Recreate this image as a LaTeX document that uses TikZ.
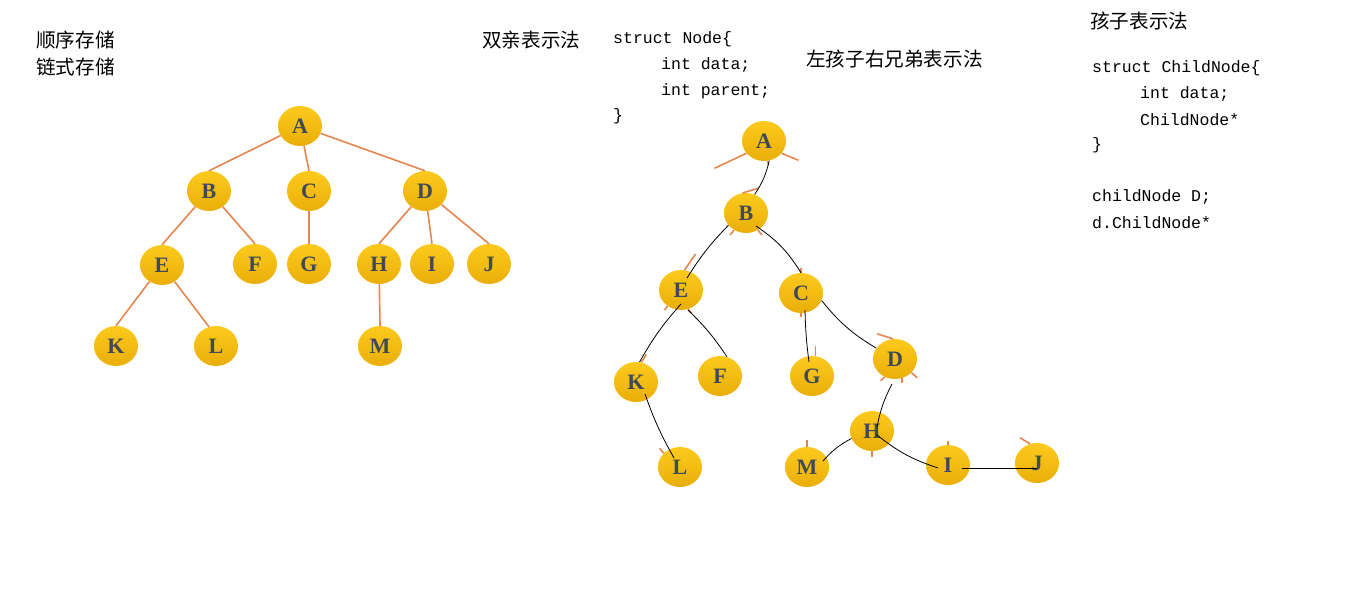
\documentclass[tikz,border=0pt]{standalone}
\usepackage{fontspec}
\setmainfont{Liberation Serif}
\setmonofont{Liberation Mono}
\newfontfamily\cjk{Noto Sans CJK SC}
\usepackage{tikz}
\usetikzlibrary{shapes.geometric, calc}

\definecolor{ballTop}{RGB}{253,202,28}
\definecolor{ballBot}{RGB}{234,174,10}
\definecolor{letter}{RGB}{62,74,86}
\definecolor{branch}{RGB}{230,134,78}

\begin{document}
\begin{tikzpicture}[x=1pt, y=-1pt,
    ball/.style={ellipse, minimum width=44, minimum height=40, inner sep=0pt,
      top color=ballTop, bottom color=ballBot, text=letter,
      font=\fontsize{22}{22}\selectfont\bfseries},
    branch/.style={draw=branch, line width=1.6pt},
    stub/.style={draw=branch, line width=1.6pt},
    hand/.style={draw=black, line width=0.8pt},
    cn/.style={anchor=west, inner sep=0pt, font=\cjk\fontsize{19.6}{19.6}\selectfont},
    code/.style={anchor=west, inner sep=0pt, font=\ttfamily\fontsize{16.5}{16.5}\selectfont}]
        \useasboundingbox (0,0) rectangle (1360,604);

        % Titles
        \node[cn] (seq) at (36,40) {顺序存储};
        \node[cn] (link) at (36,67) {链式存储};
        \node[cn] (parent) at (482,40) {双亲表示法};
        \node[cn] (lcrs) at (806,59) {左孩子右兄弟表示法};
        \node[cn] (child) at (1090,21) {孩子表示法};

        % Parent code
        \node[code] (pc1) at (613,39) {struct Node\{};
        \node[code] (pc2) at (661,65) {int data;};
        \node[code] (pc3) at (661,91) {int parent;};
        \node[code] (pc4) at (613,116) {\}};

        % Child code
        \node[code] (cc1) at (1092,68) {struct ChildNode\{};
        \node[code] (cc2) at (1140,94) {int data;};
        \node[code] (cc3) at (1140,120) {ChildNode*};
        \node[code] (cc4) at (1092,145) {\}};
        \node[code] (cc5) at (1092,197) {childNode D;};
        \node[code] (cc6) at (1092,223) {d.ChildNode*};

        % Tree
        \node[ball] (A) at (300,126) {A};
        \node[ball] (B) at (209,191) {B};
        \node[ball] (C) at (309,191) {C};
        \node[ball] (D) at (425,191) {D};
        \node[ball] (E) at (162,265) {E};
        \node[ball] (F) at (255,264) {F};
        \node[ball] (G) at (309,264) {G};
        \node[ball] (H) at (379,264) {H};
        \node[ball] (I) at (432,264) {I};
        \node[ball] (J) at (489,264) {J};
        \node[ball] (K) at (116,346) {K};
        \node[ball] (L) at (216,346) {L};
        \node[ball] (M) at (380,346) {M};
        \foreach \p/\c in {A/B, A/C, A/D, B/E, B/F, C/G, D/H, D/I, D/J, E/K, H/M}
          \draw[branch] (\p) -- (\c.north);
        \draw[branch] (E) -- (L.110);

        % Left child, right sibling
        \node[ball] (rA) at (764,141) {A};
        \node[ball] (rB) at (746,213) {B};
        \node[ball] (rE) at (681,290) {E};
        \node[ball] (rC) at (801,293) {C};
        \node[ball] (rK) at (636,382) {K};
        \node[ball] (rF) at (720,376) {F};
        \node[ball] (rG) at (812,376) {G};
        \node[ball] (rD) at (895,359) {D};
        \node[ball] (rH) at (872,431) {H};
        \node[ball] (rL) at (680,467) {L};
        \node[ball] (rM) at (807,467) {M};
        \node[ball] (rI) at (948,465) {I};
        \node[ball] (rJ) at (1037,463) {J};

        % Cut branches
        \draw[stub] (rA.215) -- ++(-32,15);
        \draw[stub] (rA.-35) -- ++(17,7);
        \draw[stub] (rA.-80) -- ++(1,4);
        \draw[stub] (rB.100) -- ++(16,-5);
        \draw[stub] (rB.-125) -- ++(-4,5);
        \draw[stub] (rB.-55) -- ++(4,5);
        \draw[stub] (rE.80) -- ++(11,-16);
        \draw[stub] (rE.-130) -- ++(-3,4);
        \draw[stub] (rE.-70) -- ++(4,4);
        \draw[stub] (rC.north) -- ++(0,-5);
        \draw[stub] (rC.south) -- ++(0,4);
        \draw[stub] (rK.75) -- ++(5,-8);
        \draw[stub] (rG.80) -- ++(0,-10);
        \draw[stub] (rD.95) -- ++(-16,-5);
        \draw[stub] (rD.-120) -- ++(-4,4);
        \draw[stub] (rD.-70) -- ++(0,5);
        \draw[stub] (rD.-40) -- ++(6,5);
        \draw[stub] (rH.south) -- ++(0,6);
        \draw[stub] (rM.north) -- ++(0,-7);
        \draw[stub] (rI.north) -- ++(0,-4);
        \draw[stub] (rJ.110) -- ++(-10,-6);
        \draw[stub] (rL.140) -- ++(-4,-5);

        % Hand drawn links
        \draw[hand] (rA.-75) to[bend left=10] (rB.65);
        \draw[hand] ($(rB)+(10,13)$) to[bend left=12] (rC.north);
        \draw[hand] (rB.-145) to[bend right=6] ($(rE)+(6,-12)$);
        \draw[hand] ($(rE)+(0,14)$) to[bend right=6] (rK.80);
        \draw[hand] ($(rE)+(7,20)$) to[bend left=6] (rF.70);
        \draw[hand] ($(rC)+(4,17)$) to[bend right=3] ($(rG)+(-3,-14)$);
        \draw[hand] (rC.-20) to[bend right=10] (rD.150);
        \draw[hand] ($(rK)+(9,12)$) to[bend right=5] ($(rL)+(-6,-9)$);
        \draw[hand] ($(rD)+(-3,25)$) to[bend right=8] ($(rH)+(5,-4)$);
        \draw[hand] (rH.-160) to[bend right=10] ($(rM)+(16,-6)$);
        \draw[hand] ($(rH)+(5,4)$) to[bend right=10] ($(rI)+(-10,3)$);
        \draw[hand] ($(rI)+(14,3)$) -- ($(rJ)+(0,5)$);
      \end{tikzpicture}
\end{document}
